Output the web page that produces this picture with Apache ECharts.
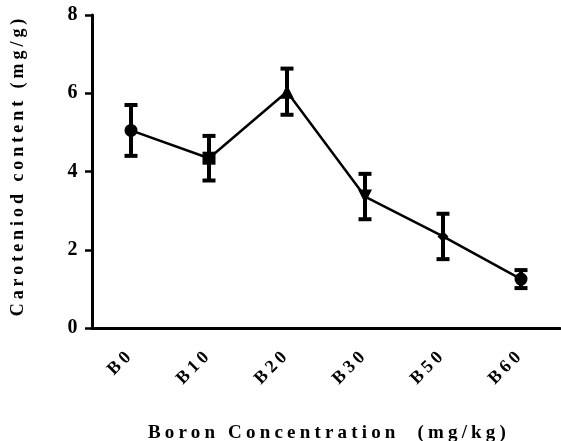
<!DOCTYPE html>
<html>
<head>
<meta charset="utf-8">
<script src="https://cdn.jsdelivr.net/npm/echarts@6/dist/echarts.min.js"></script>
<style>
  html, body { margin: 0; padding: 0; background: #fff; }
  #chart { width: 561px; height: 441px; }
</style>
</head>
<body>
<div id="chart"></div>
<script>
// Boron treatment levels and measured carotenoid content (mean ± error)
const categories = ['B0', 'B10', 'B20', 'B30', 'B50', 'B60'];
const meanValues = [5.05, 4.34, 6.04, 3.36, 2.34, 1.25];
const errorValues = [0.65, 0.57, 0.59, 0.58, 0.58, 0.23];
const yTicks = { min: 0, max: 8, interval: 2 };

const markerShapes = ['circle', 'rect', 'triangle', 'triangle', 'diamond', 'circle'];
const markerRotate = [0, 0, 0, 180, 0, 0];
const markerSizes = [13, 13, 14, 14, 11, 13];

const FONT = 'Liberation Serif';

// Wide letter tracking for every label: applied to both measuring and drawing
// so that ECharts' layout accounts for the extra width.
const TRACKING_EM = 0.22;
(function () {
  const proto = CanvasRenderingContext2D.prototype;
  const applyTracking = function (ctx) {
    const m = /(\d+(?:\.\d+)?)px/.exec(ctx.font);
    const size = m ? parseFloat(m[1]) : 12;
    ctx.letterSpacing = (size * TRACKING_EM).toFixed(2) + 'px';
  };
  const origFill = proto.fillText;
  const origMeasure = proto.measureText;
  proto.fillText = function () { applyTracking(this); return origFill.apply(this, arguments); };
  proto.measureText = function () { applyTracking(this); return origMeasure.apply(this, arguments); };
})();

const chart = echarts.init(document.getElementById('chart'), null, { renderer: 'canvas' });

const lineData = meanValues.map((v, i) => ({
  value: v,
  symbol: markerShapes[i],
  symbolSize: markerSizes[i],
  symbolRotate: markerRotate[i]
}));

const errorData = meanValues.map((v, i) => [i, v - errorValues[i], v + errorValues[i]]);

chart.setOption({
  animation: false,
  backgroundColor: '#fff',
  grid: { left: 92, right: 1, top: 15, bottom: 113, containLabel: false, outerBoundsMode: 'none' },
  xAxis: {
    type: 'category',
    data: categories,
    boundaryGap: true,
    name: 'Boron Concentration  (mg/kg)',
    nameLocation: 'middle',
    nameGap: 94,
    nameTextStyle: {
      fontFamily: FONT, fontWeight: 'bold', fontSize: 19, color: '#000', padding: [0, 0, 0, 6]
    },
    axisLine: { lineStyle: { color: '#000', width: 3 } },
    axisTick: { alignWithLabel: true, length: 7, lineStyle: { color: '#000', width: 2.5 } },
    axisLabel: {
      rotate: 45, interval: 0, margin: 24, fontFamily: FONT, fontWeight: 'bold', fontSize: 18, color: '#000'
    },
    splitLine: { show: false }
  },
  yAxis: {
    type: 'value',
    min: yTicks.min,
    max: yTicks.max,
    interval: yTicks.interval,
    name: 'Caroteniod content (mg/g)',
    nameLocation: 'middle',
    nameGap: 63,
    nameTextStyle: {
      fontFamily: FONT, fontWeight: 'bold', fontSize: 18, color: '#000', padding: [0, 0, 0, 12]
    },
    axisLine: { show: true, lineStyle: { color: '#000', width: 3 } },
    axisTick: { show: true, length: 7, lineStyle: { color: '#000', width: 2.5 } },
    axisLabel: { margin: 10, fontFamily: FONT, fontWeight: 'bold', fontSize: 20, color: '#000' },
    splitLine: { show: false }
  },
  series: [
    {
      type: 'custom',
      name: 'error',
      data: errorData,
      z: 3,
      renderItem: function (params, api) {
        const x = api.value(0);
        const lo = api.coord([x, api.value(1)]);
        const hi = api.coord([x, api.value(2)]);
        const half = 6.5;
        const style = { stroke: '#000', lineWidth: 4, fill: null };
        return {
          type: 'group',
          children: [
            { type: 'line', shape: { x1: lo[0], y1: lo[1], x2: hi[0], y2: hi[1] }, style: style },
            { type: 'line', shape: { x1: hi[0] - half, y1: hi[1], x2: hi[0] + half, y2: hi[1] }, style: style },
            { type: 'line', shape: { x1: lo[0] - half, y1: lo[1], x2: lo[0] + half, y2: lo[1] }, style: style }
          ]
        };
      }
    },
    {
      type: 'line',
      name: 'mean',
      data: lineData,
      z: 4,
      lineStyle: { color: '#000', width: 2.5 },
      itemStyle: { color: '#000', borderColor: '#000', borderWidth: 0 },
      showSymbol: true
    }
  ]
});
</script>
</body>
</html>
